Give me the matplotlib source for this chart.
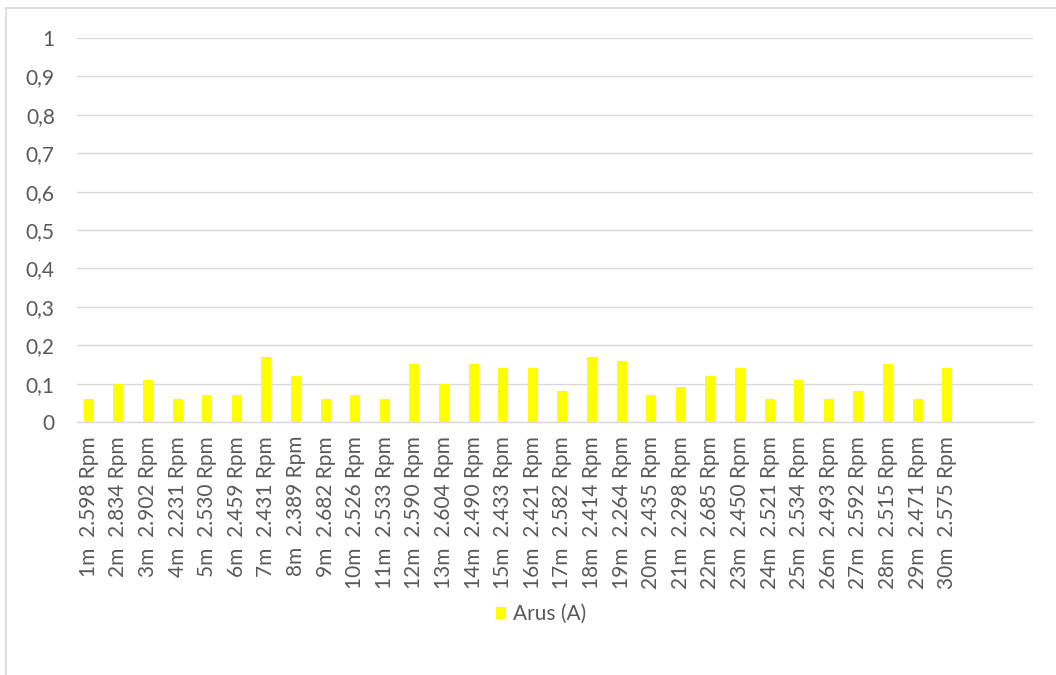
import matplotlib
matplotlib.use("Agg")
import matplotlib.pyplot as plt
from matplotlib.patches import Rectangle
from matplotlib.ticker import FuncFormatter

# data
menit = [f"{i}m" for i in range(1, 31)]
rpm = ["2.598", "2.834", "2.902", "2.231", "2.530", "2.459", "2.431", "2.389", "2.682", "2.526",
       "2.533", "2.590", "2.604", "2.490", "2.433", "2.421", "2.582", "2.414", "2.264", "2.435",
       "2.298", "2.685", "2.450", "2.521", "2.534", "2.493", "2.592", "2.515", "2.471", "2.575"]
arus = [0.06, 0.10, 0.11, 0.06, 0.07, 0.07, 0.17, 0.12, 0.06, 0.07,
        0.06, 0.15, 0.10, 0.15, 0.14, 0.14, 0.08, 0.17, 0.16, 0.07,
        0.09, 0.12, 0.14, 0.06, 0.11, 0.06, 0.08, 0.15, 0.06, 0.14]
label = [f"{m}  {r} Rpm" for m, r in zip(menit, rpm)]

plt.rcParams['font.family'] = ['Lato', 'DejaVu Sans']
abu = '#595959'
garis = '#d9d9d9'
fs = 15

fig = plt.figure(figsize=(10.56, 6.75), dpi=100)
ax = fig.add_axes([77 / 1056, 1 - 422 / 675, (1033 - 77) / 1056, (422 - 38) / 675])

x = list(range(len(arus)))
ax.bar(x, arus, width=0.34, color='#ffff00', label='Arus (A)', zorder=3)

ax.set_ylim(0, 1)
ax.set_yticks([i / 10 for i in range(11)])
ax.yaxis.set_major_formatter(FuncFormatter(lambda v, p: f"{v:.1f}".replace('.', ',').replace('0,0', '0').replace('1,0', '1')))
ax.set_xlim(-0.4, 31.9)
ax.set_xticks(x)
ax.set_xticklabels(label, rotation=90, fontsize=fs, color=abu)
ax.tick_params(axis='y', length=0, labelsize=fs, labelcolor=abu, pad=16)
ax.tick_params(axis='x', length=0, pad=10)
ax.grid(axis='y', color=garis, linewidth=1, zorder=0)
for s in ['left', 'right', 'top']:
    ax.spines[s].set_visible(False)
ax.spines['bottom'].set_color(garis)
ax.spines['bottom'].set_linewidth(1)

fig.legend(loc='center', bbox_to_anchor=(541 / 1056, 1 - 614 / 675), frameon=False,
           fontsize=fs, labelcolor=abu, handlelength=0.5, handleheight=0.5, handletextpad=0.3)

fig.patches.append(Rectangle((6 / 1056, -0.1), 1.2, 1.1 - 8 / 675, transform=fig.transFigure,
                             fill=False, edgecolor=garis, linewidth=1.2))

fig.savefig('out.png', dpi=100, facecolor='white')
